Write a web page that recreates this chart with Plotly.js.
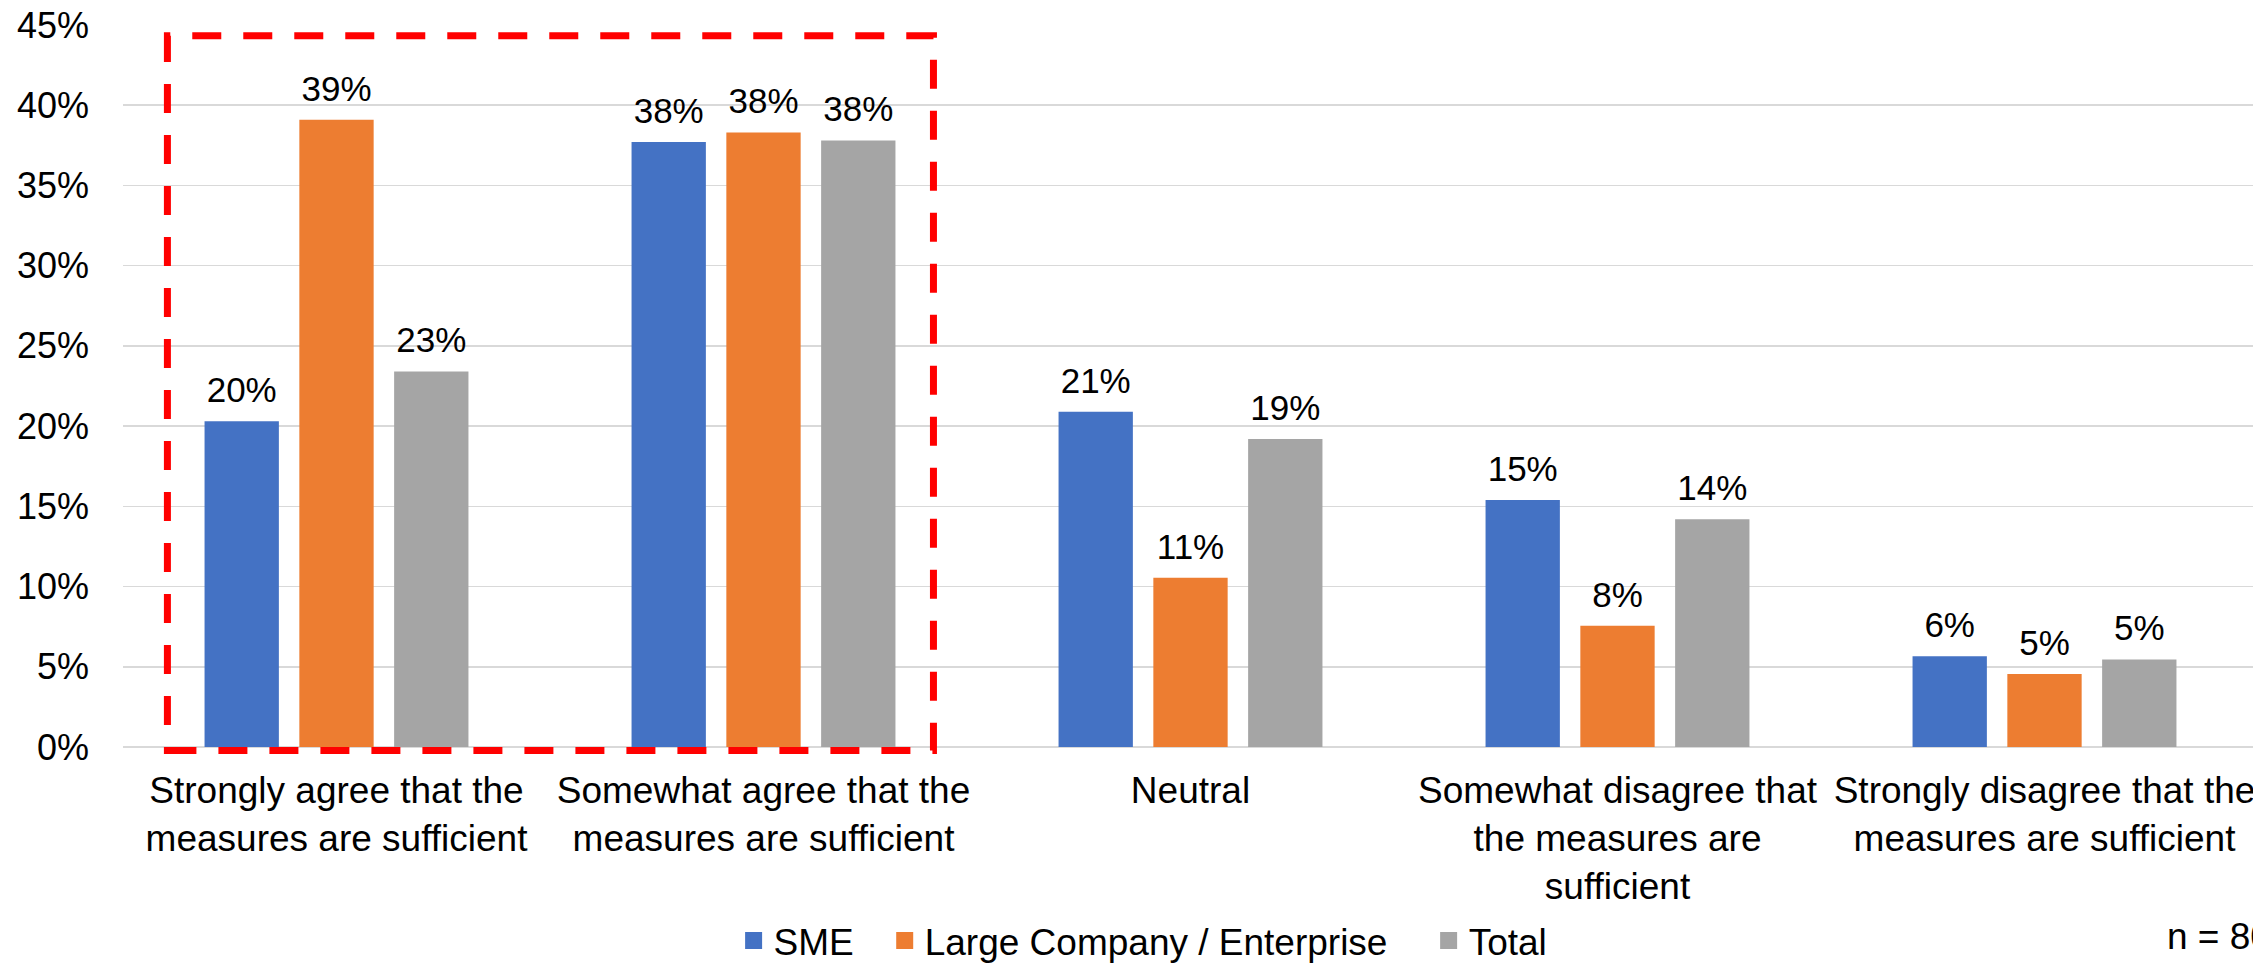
<!DOCTYPE html>
<html>
<head>
<meta charset="utf-8">
<script src="https://cdn.plot.ly/plotly-3.0.1.min.js"></script>
<style>
  html, body { margin: 0; padding: 0; overflow: hidden; background: #ffffff; }
  #chart { width: 2300px; height: 966px; }
</style>
</head>
<body>
<div id="chart"></div>
<script>
// ---- data ----
const categories = [
  "Strongly agree that the<br>measures are sufficient",
  "Somewhat agree that the<br>measures are sufficient",
  "Neutral",
  "Somewhat disagree that<br>the measures are<br>sufficient",
  "Strongly disagree that the<br>measures are sufficient"
];
const seriesNames = ["SME", "Large Company / Enterprise", "Total"];
const smeValues   = [20.3, 37.7, 20.9, 15.4, 5.65];
const largeValues = [39.1, 38.3, 10.55, 7.55, 4.55];
const totalValues = [23.4, 37.8, 19.2, 14.2, 5.45];
const seriesColors = ["#4472C4", "#ED7D31", "#A5A5A5"];
const yTickSuffix = "%";
const sampleNote = "n = 80";

const FONT = "Liberation Sans, Arial, sans-serif";
const LEGEND_PADS = ["\u2002\u2009", "\u2002\u2009\u00a0", ""];   // extra spacing between legend entries
const seriesValues = [smeValues, largeValues, totalValues];

// the bars themselves
const barTraces = seriesValues.map((vals, i) => ({
  type: "bar",
  name: seriesNames[i],
  showlegend: false,
  x: categories,
  y: vals,
  marker: { color: seriesColors[i] },
  hoverinfo: "skip"
}));

// value labels, grouped like the bars (scattermode: 'group')
const labelTraces = seriesValues.map((vals, i) => ({
  type: "scatter",
  mode: "markers+text",
  name: seriesNames[i] + " labels",
  showlegend: false,
  x: categories,
  y: vals,
  marker: { size: 15, opacity: 0, color: seriesColors[i] },
  texttemplate: "%{y:.0f}%",
  textposition: "top center",
  textfont: { family: FONT, size: 35, color: "#000000" },
  cliponaxis: false,
  hoverinfo: "skip"
}));

// legend entries only (larger swatches), on an overlaid hidden axis
const legendTraces = seriesNames.map((nm, i) => ({
  type: "bar",
  name: nm + LEGEND_PADS[i],
  x: [null],
  y: [null],
  xaxis: "x",
  yaxis: "y2",
  marker: { color: seriesColors[i], line: { color: seriesColors[i], width: 5 } },
  hoverinfo: "skip"
}));

const layout = {
  width: 2300,
  height: 966,
  margin: { l: 123, r: 42, t: 25, b: 219 },
  paper_bgcolor: "#ffffff",
  plot_bgcolor: "#ffffff",
  barmode: "group",
  bargap: 0.334,
  bargroupgap: 0.216,
  scattermode: "group",
  scattergap: 0.334,
  font: { family: FONT, color: "#000000" },
  xaxis: {
    type: "category",
    showgrid: false,
    showline: false,
    zeroline: false,
    ticks: "",
    tickfont: { family: FONT, size: 37, color: "#000000" },
    ticklabelstandoff: 18,
    automargin: false
  },
  yaxis: {
    range: [0, 45],
    dtick: 5,
    tick0: 0,
    ticksuffix: yTickSuffix,
    showgrid: true,
    gridcolor: "#d9d9d9",
    gridwidth: 1.5,
    zeroline: true,
    zerolinecolor: "#d9d9d9",
    zerolinewidth: 1.5,
    showline: false,
    ticks: "",
    tickfont: { family: FONT, size: 36, color: "#000000" },
    ticklabelstandoff: 33,
    automargin: false
  },
  yaxis2: {
    overlaying: "y",
    range: [0, 45],
    visible: false,
    showgrid: false,
    zeroline: false
  },
  legend: {
    orientation: "h",
    x: 0.286,
    xanchor: "left",
    xref: "paper",
    yref: "container",
    y: 0.026,
    yanchor: "middle",
    font: { family: FONT, size: 37, color: "#000000" },
    bgcolor: "rgba(0,0,0,0)",
    traceorder: "normal"
  },
  shapes: [{
    type: "rect",
    xref: "x", yref: "paper",
    x0: -0.396, x1: 1.398,
    y0: -0.005, y1: 0.985,
    line: { color: "#FF0000", width: 7, dash: "29px,22px" },
    fillcolor: "rgba(0,0,0,0)",
    layer: "above"
  }],
  annotations: [{
    text: sampleNote,
    xref: "paper", yref: "paper",
    x: 0.9564, y: -0.263,
    xanchor: "left", yanchor: "middle",
    showarrow: false,
    font: { family: FONT, size: 37, color: "#000000" }
  }]
};

Plotly.newPlot("chart", barTraces.concat(labelTraces, legendTraces), layout, { displayModeBar: false, staticPlot: true });
</script>
</body>
</html>
